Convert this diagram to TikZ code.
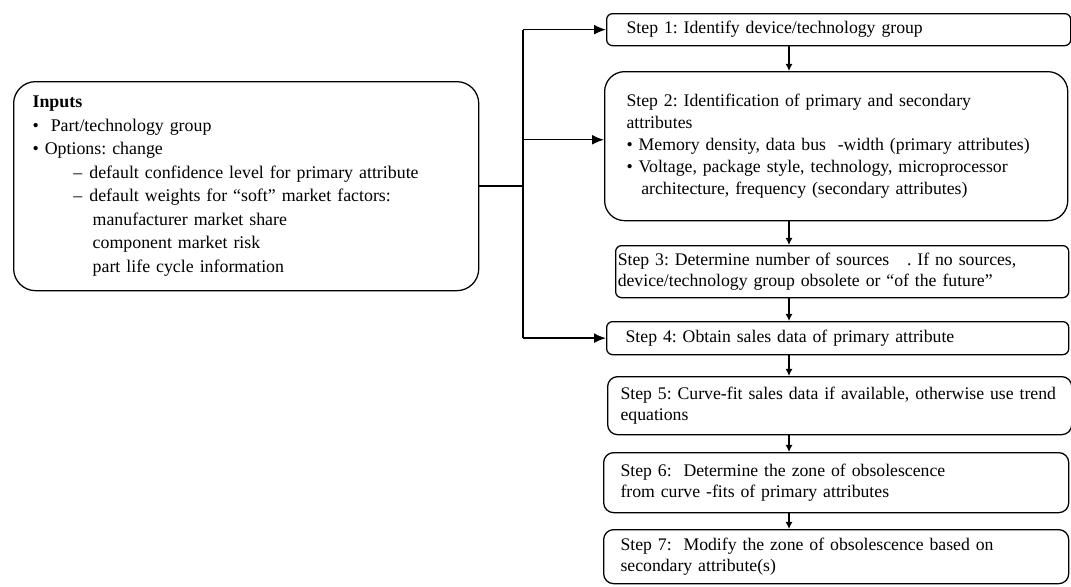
\documentclass[tikz,border=0pt]{standalone}
\usepackage{fontspec}
\setmainfont{Liberation Serif}
\usetikzlibrary{arrows.meta, calc}

\newcommand{\boxfont}{\frenchspacing\fontsize{12.6}{15.5}\selectfont}

\begin{document}
\begin{tikzpicture}[x=0.025cm, y=-0.025cm]
% Styles
\tikzstyle{stepbox} = [draw=black, line width=0.9pt, anchor=north west, inner sep=0pt, align=left, font=\boxfont]
\tikzstyle{lskip} = [execute at begin node={\leftskip=#1}]
\tikzstyle{arrow} = [line width=1pt,-{Latex[length=8.5pt,width=7pt]}]
\tikzstyle{steparrow} = [line width=0.9pt,-{Latex[length=5pt,width=5pt]}]

\useasboundingbox (0,0) rectangle (1071,586);

\node (inputs) [stepbox, rounded corners=0.55cm, text width=11.625cm, minimum height=5.225cm, lskip=13.5pt,
  font=\frenchspacing\fontsize{12.7}{16.7}\selectfont] at (13,81)
  {\textbf{Inputs}\\
   \textbullet\ \ Part/technology group\\
   \textbullet\ Options: change\\
   \hspace*{29pt}--\hspace{5pt}default confidence level for primary attribute\\
   \hspace*{29pt}--\hspace{5pt}default weights for ``soft'' market factors:\\
   \hspace*{42.7pt}manufacturer market share\\
   \hspace*{42.7pt}component market risk\\
   \hspace*{42.7pt}part life cycle information};

\node (step1) [stepbox, rounded corners=0.15cm, text width=11.6cm, minimum height=0.8cm, lskip=14.2pt] at (606,13)
  {Step 1: Identify device/technology group};
\node (step2) [stepbox, rounded corners=0.5cm, text width=11.575cm, minimum height=3.725cm, lskip=15.6pt] at (604,71)
  {Step 2: Identification of primary and secondary\\
   attributes\\
   \textbullet\ Memory density, data bus\ \ -width (primary attributes)\\
   \textbullet\ Voltage, package style, technology, microprocessor\\
   \hspace*{10.5pt}architecture, frequency (secondary attributes)};
\node (step3) [stepbox, rounded corners=0.15cm, text width=11.325cm, minimum height=1.3cm, lskip=1.5pt] at (615,245)
  {Step 3: Determine number of sources\ \ \ . If no sources,\\
   device/technology group obsolete or ``of the future''};
\node (step4) [stepbox, rounded corners=0.15cm, text width=11.55cm, minimum height=0.825cm, lskip=13.5pt] at (606,321)
  {Step 4: Obtain sales data of primary attribute};
\node (step5) [stepbox, rounded corners=0.25cm, text width=11.6cm, minimum height=1.45cm, lskip=9.2pt] at (607,376)
  {Step 5: Curve-fit sales data if available, otherwise use trend\\
   equations};
\node (step6) [stepbox, rounded corners=0.25cm, text width=11.625cm, minimum height=1.5cm, lskip=12pt] at (603,452)
  {Step 6:\ \ Determine the zone of obsolescence\\
   from curve -fits of primary attributes};
\node (step7) [stepbox, rounded corners=0.25cm, text width=11.625cm, minimum height=1.35cm, lskip=12pt] at (603,529)
  {Step 7:\ \ Modify the zone of obsolescence based on\\
   secondary attribute(s)};

\coordinate (bus) at (523,0);
\coordinate (spine) at (789,0);

% inputs feed steps 1, 2 and 4
\draw [line width=1pt] (inputs.east) -- (inputs.east -| bus);
\draw [line width=1pt] (bus |- step1.west) -- (bus |- step4.west);
\draw [arrow] (bus |- step1.west) -- (step1.west);
\draw [arrow] ([yshift=0.16cm]step2.west -| bus) -- ([yshift=0.16cm]step2.west);
\draw [arrow] (bus |- step4.west) -- (step4.west);

% chain of steps
\foreach \a/\b in {step1/step2, step2/step3, step3/step4, step4/step5, step5/step6, step6/step7}
  \draw [steparrow] (\a.south -| spine) -- (\b.north -| spine);

\end{tikzpicture}
\end{document}
